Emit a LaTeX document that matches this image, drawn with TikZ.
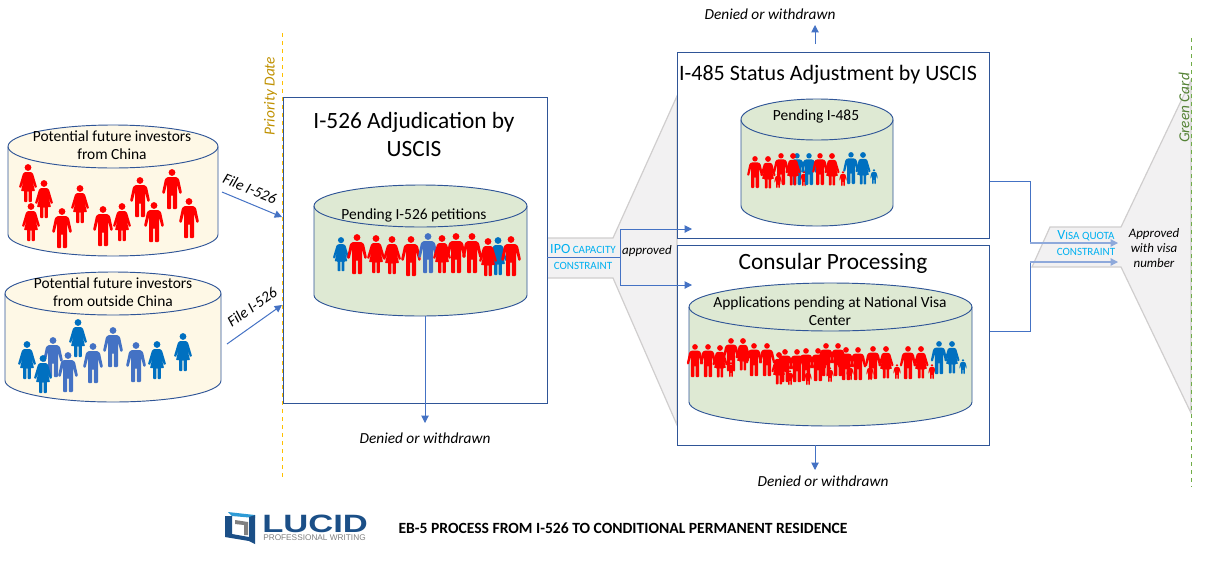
\documentclass[tikz,border=0pt]{standalone}
\usepackage{fontspec}
\usepackage{graphicx}
\setmainfont{Carlito}
\newfontfamily\logofont{Liberation Sans}
\usetikzlibrary{shapes.geometric,arrows.meta}
\definecolor{boxblue}{HTML}{2F5597}
\definecolor{linkblue}{HTML}{4472C4}
\definecolor{paleblue}{HTML}{8EA9DB}
\definecolor{womanblue}{HTML}{0070C0}
\definecolor{capcyan}{HTML}{00B0F0}
\definecolor{funnelgray}{HTML}{F2F1F2}
\definecolor{funneledge}{HTML}{D0CECE}
\definecolor{creamfill}{HTML}{FEF8E6}
\definecolor{sagefill}{HTML}{DEE9D3}
\definecolor{prioritygold}{HTML}{FFC000}
\definecolor{prioritytext}{HTML}{BF9000}
\definecolor{greencard}{HTML}{70AD47}
\definecolor{greentext}{HTML}{548235}
\definecolor{logoblue}{HTML}{1B4F87}
\definecolor{logocyan}{HTML}{2E9BD6}
\tikzset{
    pics/man/.style={code={
        \fill (0,3.5) circle (3.4);
        \fill[rounded corners=.7pt] (-4.5,8)--(4.5,8)--(7,10)--(10,24)--(7.5,25)--(5,15)--(5,40)--(0.8,40)--(0.8,26)--(-0.8,26)--(-0.8,40)--(-5,40)--(-5,15)--(-7.5,25)--(-10,24)--(-7,10)--cycle;
    }},
    pics/woman/.style={code={
        \fill (0,3.5) circle (3.4);
        \fill[rounded corners=.5pt] (-3,8)--(3,8)--(5,9.5)--(9,23)--(7,24)--(4,15)--(7,27)--(3.8,27)--(3.8,38)--(.6,38)--(.6,27)--(-.6,27)--(-.6,38)--(-3.8,38)--(-3.8,27)--(-7,27)--(-4,15)--(-7,24)--(-9,23)--(-5,9.5)--cycle;
    }}
}
% left, right, top, bottom, end radius, fill
\newcommand{\drum}[6]{
    \filldraw[draw=boxblue, line width=.7pt, fill=#6] (#1,#3+#5) -- (#1,#4-#5) arc[start angle=180, end angle=0, x radius=(#2-#1)/2, y radius=#5] -- (#2,#3+#5) arc[start angle=0, end angle=-180, x radius=(#2-#1)/2, y radius=#5] -- cycle;
    \draw[boxblue, line width=.7pt] (#1,#3+#5) arc[start angle=180, end angle=0, x radius=(#2-#1)/2, y radius=#5];
}
\begin{document}
\begin{tikzpicture}[
        x=0.75pt, y=-0.75pt,
        stagebox/.style={rectangle, draw=boxblue, fill=white, line width=.7pt, inner sep=0pt},
        arrow/.style={-{Triangle[length=5.5pt,width=5.5pt]}, linkblue, line width=.75pt},
        palearrow/.style={-{Triangle[length=5.5pt,width=5.5pt]}, paleblue, line width=.9pt},
        funnel/.style={fill=funnelgray, draw=funneledge, line width=.9pt},
        limit/.style={dashed, line width=.75pt},
        drumlabel/.style={align=center, font=\fontsize{11.6}{13.5}\selectfont, inner sep=0pt},
        title/.style={align=center, font=\fontsize{17.5}{21}\selectfont, inner sep=0pt},
        note/.style={align=center, font=\fontsize{11.5}{13}\selectfont\itshape, inner sep=0pt},
        smallnote/.style={align=center, font=\fontsize{9.7}{11.5}\selectfont\itshape, inner sep=0pt},
        capnote/.style={align=center, text=capcyan, font=\fontsize{8.3}{12}\selectfont, inner sep=0pt},
        red man/.style={red},
        blue man/.style={linkblue},
        blue woman/.style={womanblue}
    ]
        \useasboundingbox (0,0) rectangle (1205,579);

        % funnels behind the boxes
        \draw[funnel] (547,238) -- (613,238) -- (677,96) -- (677,425) -- (613,278) -- (547,278) -- cycle;

        % stages
        \node[stagebox, minimum width=198pt, minimum height=229.5pt] (adjudication) at (415,250) {};
        \node[stagebox, minimum width=234.5pt, minimum height=139.5pt] (status) at (833.5,145) {};
        \node[stagebox, minimum width=234.5pt, minimum height=150pt] (consular) at (833.5,345) {};

        % pools
        \drum{8}{218}{125}{256}{21.5}{creamfill}
        \drum{5}{221}{272}{402}{21.5}{creamfill}
        \drum{314}{527}{185}{316}{21}{sagefill}
        \drum{741}{893}{99}{226}{20.5}{sagefill}
        \drum{689}{972}{283}{426}{24}{sagefill}

        % investors from China
        \pic[red man] at (28,164) {woman};
        \pic[red man] at (44,180) {woman};
        \pic[red man] at (31,203) {woman};
        \pic[red man] at (62,208) {man};
        \pic[red man] at (80,185) {woman};
        \pic[red man] at (103,206) {man};
        \pic[red man] at (122,203) {woman};
        \pic[red man] at (140,177) {man};
        \pic[red man] at (154,202) {man};
        \pic[red man] at (172,169) {man};
        \pic[red man] at (189,198) {man};

        % investors from outside China
        \pic[blue man] at (53,337) {man};
        \pic[blue woman] at (27,341) {woman};
        \pic[blue woman] at (43,355) {woman};
        \pic[blue man] at (68,352) {man};
        \pic[blue woman] at (78,319) {woman};
        \pic[blue man] at (93,343) {man};
        \pic[blue man] at (113,327) {man};
        \pic[blue man] at (136,342) {man};
        \pic[blue woman] at (157,341) {woman};
        \pic[blue woman] at (183,333) {woman};

        % pending I-526
        \pic[blue woman, scale=.9] at (341,237) {woman};
        \pic[red man] at (357,234) {man};
        \pic[red man] at (376,235) {woman};
        \pic[red man] at (392,236) {woman};
        \pic[red man] at (411,236) {man};
        \pic[blue man] at (428,233) {man};
        \pic[red man] at (442,235) {woman};
        \pic[red man] at (456,233) {man};
        \pic[red man] at (472,233) {man};
        \pic[blue woman] at (498,237) {woman};
        \pic[red man] at (488,238) {woman};
        \pic[red man] at (511,236) {man};

        % pending I-485
        \pic[red man, scale=.8] at (755,156) {man};
        \pic[red man, scale=.85] at (768,156) {woman};
        \pic[red man, scale=.8] at (781,153) {man};
        \pic[red man, scale=.38] at (778,173) {man};
        \pic[blue woman, scale=.8] at (797,153) {man};
        \pic[red man, scale=.85] at (793,153) {woman};
        \pic[red man, scale=.38] at (804,171) {man};
        \pic[blue woman, scale=.8] at (809,153) {man};
        \pic[red man, scale=.8] at (820,153) {man};
        \pic[red man, scale=.85] at (832,153) {woman};
        \pic[red man, scale=.38] at (843,171) {man};
        \pic[blue woman, scale=.8] at (851,152) {man};
        \pic[blue woman, scale=.85] at (863,152) {woman};
        \pic[blue woman, scale=.38] at (874,169) {man};

        % pending at the visa center
        \pic[red man, scale=.83] at (695,344) {man};
        \pic[red man, scale=.83] at (708,344) {man};
        \pic[red man, scale=.85] at (720,345) {woman};
        \pic[red man, scale=.83] at (731,338) {man};
        \pic[red man, scale=.38] at (731,362) {man};
        \pic[red man, scale=.85] at (743,338) {woman};
        \pic[red man, scale=.83] at (754,343) {man};
        \pic[red man, scale=.83] at (767,343) {man};
        \pic[red man, scale=.85] at (779,352) {woman};
        \pic[red man, scale=.83] at (785,349) {man};
        \pic[red man, scale=.38] at (790,370) {man};
        \pic[red man, scale=.83] at (797,349) {man};
        \pic[red man, scale=.83] at (806,348) {man};
        \pic[red man, scale=.38] at (808,370) {man};
        \pic[red man, scale=.83] at (818,348) {man};
        \pic[red man, scale=.83] at (826,343) {man};
        \pic[red man, scale=.38] at (830,367) {man};
        \pic[red man, scale=.83] at (838,343) {man};
        \pic[red man, scale=.83] at (846,347) {man};
        \pic[red man, scale=.38] at (850,365) {man};
        \pic[red man, scale=.83] at (858,347) {man};
        \pic[red man, scale=.38] at (870,365) {man};
        \pic[red man, scale=.83] at (873,346) {man};
        \pic[red man, scale=.85] at (886,346) {woman};
        \pic[red man, scale=.38] at (897,364) {man};
        \pic[red man, scale=.83] at (908,346) {man};
        \pic[red man, scale=.85] at (921,346) {woman};
        \pic[red man, scale=.38] at (932,364) {man};
        \pic[blue woman, scale=.83] at (939,341) {man};
        \pic[blue woman, scale=.85] at (952,341) {woman};
        \pic[blue woman, scale=.38] at (963,359) {man};

        % labels of the pools
        \node[drumlabel] (chinalabel) at (112,145) {Potential future investors\\from China};
        \node[drumlabel] (outsidelabel) at (113,292) {Potential future investors\\from outside China};
        \node[drumlabel] (pending526label) at (414,215) {Pending I-526 petitions};
        \node[drumlabel] (pending485label) at (816,116) {Pending I-485};
        \node[drumlabel] (visacenterlabel) at (830,311) {Applications pending at National Visa\\Center};

        % titles of the stages
        \node[title] (adjudicationtitle) at (414,134) {I-526 Adjudication by\\USCIS};
        \node[title, font=\fontsize{16.5}{20}\selectfont] (statustitle) at (828,75) {I-485 Status Adjustment by USCIS};
        \node[title] (consulartitle) at (833,263) {Consular Processing};

        % filing
        \coordinate (chinafile) at (222,192);
        \coordinate (outsidefile) at (227,344);
        \coordinate (filetop) at (282,217);
        \coordinate (filelow) at (282,305);
        \draw[arrow] (chinafile) -- (filetop);
        \draw[arrow] (outsidefile) -- (filelow);
        \node[note, rotate=-23] (filechina) at (250,189) {File I-526};
        \node[note, rotate=35] (fileoutside) at (252,307) {File I-526};

        % denied or withdrawn
        \coordinate (pendingout) at (425,316);
        \coordinate (deniedlow) at (425,423);
        \draw[arrow] (pendingout) -- (deniedlow);
        \node[note] (denied526) at (425,438) {Denied or withdrawn};
        \coordinate (deniedtopfrom) at (815,44);
        \coordinate (deniedtop) at (815,25);
        \draw[arrow] (deniedtopfrom) -- (deniedtop);
        \node[note] (denied485) at (770,14) {Denied or withdrawn};
        \coordinate (deniedcons) at (815,470);
        \draw[arrow] (consular.south -| deniedcons) -- (deniedcons);
        \node[note] (deniedconsular) at (823,481) {Denied or withdrawn};

        % IPO capacity constraint
        \coordinate (ipojoin) at (620,257);
        \coordinate (into485) at (692,229);
        \coordinate (intocons) at (692,285);
        \draw[linkblue, line width=.75pt] (adjudication.east |- ipojoin) -- (ipojoin);
        \draw[arrow] (ipojoin) |- (into485);
        \draw[arrow] (ipojoin) |- (intocons);
        \node[capnote] (ipolabel) at (583,257) {{\fontsize{10.5}{12}\selectfont IPO} CAPACITY\\CONSTRAINT};
        \node[smallnote] (approved) at (647,251) {approved};

        % visa quota constraint
        \coordinate (quotajoin) at (1030,243);
        \coordinate (quotajoinlow) at (1030,262);
        \coordinate (quotaout) at (1118,243);
        \coordinate (quotaoutlow) at (1118,262);
        \draw[funnel] (1032,267) -- (1050,227) -- (1121,227) -- (1191,80) -- (1191,413) -- (1121,267) -- cycle;
        \draw[linkblue, line width=.75pt] (status.east |- 1000,181) -| (quotajoin);
        \draw[palearrow] (quotajoin) -- (quotaout);
        \draw[linkblue, line width=.75pt] (consular.east |- 1000,331) -| (quotajoinlow);
        \draw[palearrow] (quotajoinlow) -- (quotaoutlow);
        \node[capnote] (visalabel) at (1086,243) {{\fontsize{10.5}{12}\selectfont V}ISA QUOTA\\CONSTRAINT};
        \node[smallnote] (visaapproved) at (1154,248) {Approved\\with visa\\number};

        % limits
        \draw[limit, prioritygold] (282.5,33) -- (282.5,480);
        \draw[limit, greencard] (1191,38) -- (1191,487);
        \node[note, text=prioritytext, rotate=90] (prioritydate) at (270.5,96) {Priority Date};
        \node[note, text=greentext, rotate=90] (greencardlabel) at (1184,108) {Green Card};

        % logo
        \fill[logocyan] (228,512) -- (255,515) -- (255,518) -- (232,516) -- cycle;
        \fill[logoblue] (249,517) -- (255,515) -- (255,544) -- (249,541) -- cycle;
        \fill[logoblue] (225,516) -- (232,516) -- (232,534) -- (249,537) -- (249,541) -- (225,537) -- cycle;
        \fill[gray] (235,520) -- (248,522) -- (248,535) -- (244,535) -- (244,525) -- (235,524) -- cycle;
        \node[text=logoblue, inner sep=0pt, anchor=west] (lucid) at (262,524) {\logofont\bfseries\fontsize{18.8}{20}\selectfont\scalebox{1.38}[1]{LUCID}};
        \node[text=gray, inner sep=0pt, anchor=west] (lucidsub) at (263,537.5) {\logofont\fontsize{6.2}{8}\selectfont PROFESSIONAL WRITING};

        % caption
        \node[inner sep=0pt, font=\fontsize{11.7}{13}\selectfont\bfseries] (caption) at (623,528) {EB-5 PROCESS FROM I-526 TO CONDITIONAL PERMANENT RESIDENCE};
    \end{tikzpicture}
\end{document}
